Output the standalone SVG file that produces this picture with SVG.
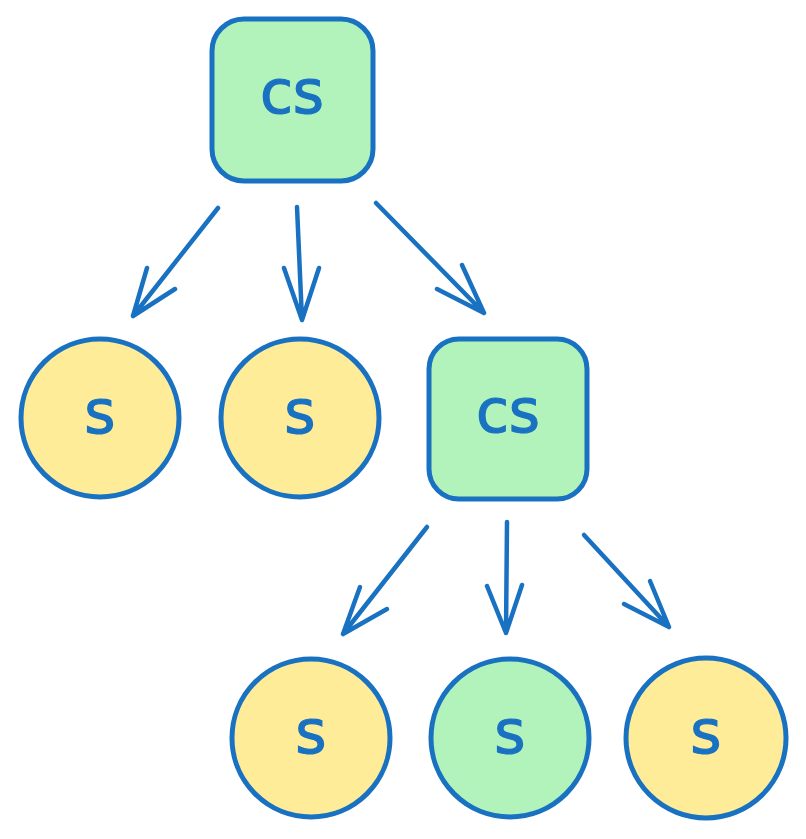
<svg xmlns="http://www.w3.org/2000/svg" width="806" height="839" viewBox="0 0 806 839">
  <style>
    .edge { fill: none; stroke: #1971c2; stroke-width: 4.5; stroke-linecap: round; stroke-linejoin: round; }
    .box { fill: #b2f2bb; stroke: #1971c2; stroke-width: 5; }
    .leaf { stroke: #1971c2; stroke-width: 5; }
    .yellow { fill: #ffec99; }
    .green { fill: #b2f2bb; }
    .label { font-family: "DejaVu Sans", "Liberation Sans", sans-serif; font-size: 60px; fill: #1971c2; stroke: #1971c2; stroke-width: 1.2; text-anchor: middle; }
  </style>

  <rect width="806" height="839" fill="#ffffff"/>

  <!-- connectors: shaft plus two barbs each -->
  <g id="connectors">
    <path class="edge" d="M218 208 L133 316 M147 268 L133 316 L175 289"/>
    <path class="edge" d="M297 207 L302 320 M284 268 L302 320 L319 268"/>
    <path class="edge" d="M376 203 L484 313 M462 265 L484 313 L437 289"/>
    <path class="edge" d="M427 527 L343 634 M360 587 L343 634 L387 609"/>
    <path class="edge" d="M507 522 L506 633 M487 586 L506 633 L522 585"/>
    <path class="edge" d="M584 535 L669 627 M650 581 L669 627 L624 604"/>
  </g>

  <!-- root -->
  <g id="node-cs-root">
    <rect class="box" x="212" y="19" width="161" height="162" rx="32"/>
    <text class="label" x="292" y="113">cs</text>
  </g>

  <!-- first level -->
  <g id="node-s1">
    <circle class="leaf yellow" cx="100" cy="418" r="79"/>
    <text class="label" x="100" y="433">s</text>
  </g>
  <g id="node-s2">
    <circle class="leaf yellow" cx="300" cy="418" r="79"/>
    <text class="label" x="300" y="433">s</text>
  </g>
  <g id="node-cs-child">
    <rect class="box" x="429" y="339" width="158" height="160" rx="30"/>
    <text class="label" x="508" y="432">cs</text>
  </g>

  <!-- second level -->
  <g id="node-s3">
    <circle class="leaf yellow" cx="311" cy="738" r="79"/>
    <text class="label" x="311" y="753">s</text>
  </g>
  <g id="node-s4">
    <circle class="leaf green" cx="510" cy="738" r="79"/>
    <text class="label" x="510" y="753">s</text>
  </g>
  <g id="node-s5">
    <circle class="leaf yellow" cx="706" cy="738" r="80"/>
    <text class="label" x="706" y="753">s</text>
  </g>
</svg>
